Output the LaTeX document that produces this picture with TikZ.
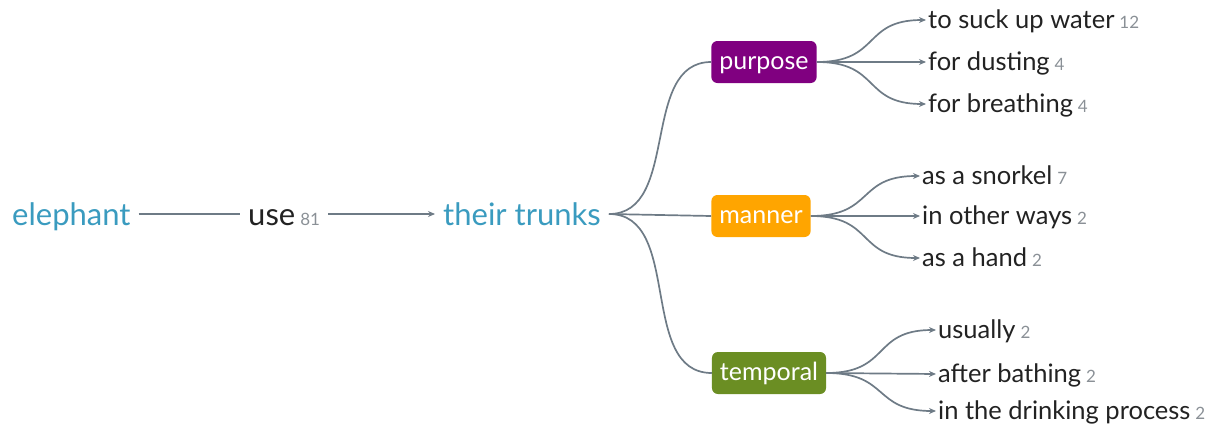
\documentclass[tikz,border=0pt]{standalone}
\usepackage{fontspec}
\setmainfont{Lato}
\usetikzlibrary{arrows.meta, positioning}
\definecolor{TermBlue}{HTML}{3A9BBF}
\definecolor{LinkGray}{HTML}{6E7B86}
\definecolor{CountGray}{HTML}{8A9096}
\definecolor{TextDark}{HTML}{222222}
\definecolor{PurposeColor}{HTML}{800080}
\definecolor{MannerColor}{HTML}{FFA500}
\definecolor{TemporalColor}{HTML}{6B8E23}
\newcommand{\freq}[1]{\hspace{5pt}{\fontsize{17}{17}\selectfont\color{CountGray}#1}}

\begin{document}
\begin{tikzpicture}[
        x=1pt, y=-1pt,
        term/.style={anchor=west, inner xsep=8pt, inner ysep=0pt, text height=26pt, text depth=4pt, font=\fontsize{31}{31}\selectfont, text=TermBlue},
        word/.style={term, text=TextDark},
        relbox/.style={rectangle, rounded corners=6pt, minimum height=42pt, inner xsep=8pt, text height=19pt, text depth=5pt, font=\fontsize{25}{25}\selectfont, text=white},
        leaf/.style={anchor=west, inner xsep=2pt, inner ysep=0pt, text height=21pt, text depth=4pt, font=\fontsize{25.5}{25.5}\selectfont, text=TextDark},
        link/.style={LinkGray, line width=1.7pt},
        arr/.style={link, -{Stealth[length=7pt, width=6pt]}},
        fork/.style={arr, looseness=1.4}
      ]
        \useasboundingbox (0,0) rectangle (1213,426);

        % Nodes
        \node[term] (elephant) at (4,214) {elephant};
        \node[word] (use) at (240,214) {use\freq{81}};
        \node[term] (trunks) at (435,214) {their trunks};

        \node[relbox, fill=PurposeColor] (purpose) at (764,62) {purpose};
        \node[relbox, fill=MannerColor] (manner) at (761,216) {manner};
        \node[relbox, fill=TemporalColor] (temporal) at (769,373) {temporal};

        \node[leaf] (suck) at (926,20) {to suck up water\freq{12}};
        \node[leaf] (dusting) at (926,62) {for dusting\freq{4}};
        \node[leaf] (breathing) at (926,104) {for breathing\freq{4}};
        \node[leaf] (snorkel) at (920,176) {as a snorkel\freq{7}};
        \node[leaf] (otherways) at (920,216) {in other ways\freq{2}};
        \node[leaf] (hand) at (920,258) {as a hand\freq{2}};
        \node[leaf] (usually) at (936,330) {usually\freq{2}};
        \node[leaf] (bathing) at (936,374) {after bathing\freq{2}};
        \node[leaf] (drinking) at (936,411) {in the drinking process\freq{2}};

        % Connections
        \draw[link] (elephant) -- (use);
        \draw[arr] (use) -- (trunks);
        \draw[link] (trunks.east) to[out=0, in=180] (purpose.west);
        \draw[link] (trunks.east) -- (manner.west);
        \draw[link] (trunks.east) to[out=0, in=180] (temporal.west);

        \draw[fork] (purpose.east) to[out=0, in=180] (suck.west);
        \draw[arr] (purpose.east) -- (dusting.west);
        \draw[fork] (purpose.east) to[out=0, in=180] (breathing.west);
        \draw[fork] (manner.east) to[out=0, in=180] (snorkel.west);
        \draw[arr] (manner.east) -- (otherways.west);
        \draw[fork] (manner.east) to[out=0, in=180] (hand.west);
        \draw[fork] (temporal.east) to[out=0, in=180] (usually.west);
        \draw[arr] (temporal.east) -- (bathing.west);
        \draw[fork] (temporal.east) to[out=0, in=180] (drinking.west);
      \end{tikzpicture}
\end{document}
